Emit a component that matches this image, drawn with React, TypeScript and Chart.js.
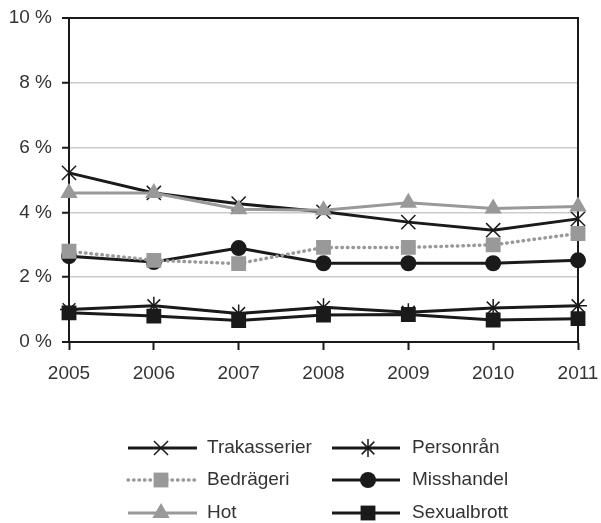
import React, { useEffect, useRef } from "react";
import { Chart, registerables } from "chart.js";
import { drawPoint } from "chart.js/helpers";

Chart.register(...registerables);

const years = ["2005", "2006", "2007", "2008", "2009", "2010", "2011"];
const trakasserier = [5.22, 4.6, 4.27, 4.02, 3.7, 3.45, 3.8];
const personran = [1.0, 1.12, 0.88, 1.07, 0.92, 1.05, 1.12];
const bedrageri = [2.8, 2.52, 2.42, 2.92, 2.92, 3.0, 3.35];
const misshandel = [2.65, 2.47, 2.9, 2.43, 2.43, 2.43, 2.52];
const hot = [4.6, 4.6, 4.1, 4.07, 4.3, 4.12, 4.18];
const sexualbrott = [0.9, 0.8, 0.66, 0.83, 0.85, 0.68, 0.72];
const yTicks = [0, 2, 4, 6, 8, 10];

const BLACK = "#1a1a1a";
const GRAY = "#999999";
const TEXT = "#333333";
const FONT = "'Liberation Sans', Arial, sans-serif";
const FS = 19;

const legendPlugin = {
  id: "customLegend",
  afterDraw(chart: any) {
    const ctx = chart.ctx;
    const rows = [448, 480, 513];
    const cols = [
      { x1: 128, x2: 197, mx: 161, tx: 207 },
      { x1: 332, x2: 400, mx: 368, tx: 412 },
    ];
    chart.data.datasets.forEach((ds: any, i: number) => {
      const c = cols[i % 2];
      const y = rows[Math.floor(i / 2)];
      ctx.save();
      ctx.strokeStyle = ds.borderColor;
      ctx.lineWidth = ds.borderWidth;
      ctx.lineCap = ds.borderCapStyle || "butt";
      ctx.setLineDash(ds.borderDash || []);
      ctx.beginPath();
      ctx.moveTo(c.x1, y);
      ctx.lineTo(c.x2, y);
      ctx.stroke();
      ctx.setLineDash([]);
      ctx.lineCap = "butt";
      ctx.fillStyle = ds.pointBackgroundColor;
      ctx.strokeStyle = ds.pointBorderColor;
      ctx.lineWidth = ds.pointBorderWidth;
      drawPoint(
        ctx,
        {
          pointStyle: ds.pointStyle,
          radius: ds.pointRadius,
          rotation: 0,
          borderWidth: ds.pointBorderWidth,
        } as any,
        c.mx,
        y
      );
      ctx.fillStyle = TEXT;
      ctx.font = `${FS}px ${FONT}`;
      ctx.textBaseline = "middle";
      ctx.textAlign = "left";
      ctx.fillText(ds.label, c.tx, y);
      ctx.restore();
    });
  },
};

const boxPlugin = {
  id: "box",
  beforeDatasetsDraw(chart: any) {
    const { ctx, chartArea } = chart;
    ctx.save();
    ctx.strokeStyle = BLACK;
    ctx.lineWidth = 2;
    ctx.strokeRect(
      chartArea.left,
      chartArea.top,
      chartArea.right - chartArea.left,
      chartArea.bottom - chartArea.top
    );
    ctx.restore();
  },
};

export default function App() {
  const ref = useRef<HTMLCanvasElement | null>(null);
  useEffect(() => {
    if (!ref.current) return;
    const line = (
      label: string,
      data: number[],
      color: string,
      style: string,
      radius: number,
      order: number,
      extra: any = {}
    ) => ({
      label,
      data,
      borderColor: color,
      backgroundColor: color,
      borderWidth: 3,
      pointStyle: style,
      pointRadius: radius,
      pointBackgroundColor: color,
      pointBorderColor: color,
      pointBorderWidth: style === "crossRot" || style === "star" ? 1.5 : 0,
      tension: 0,
      order,
      ...extra,
    });
    const chart = new Chart(ref.current, {
      type: "line",
      data: {
        labels: years,
        datasets: [
          line("Trakasserier", trakasserier, BLACK, "crossRot", 10, 5),
          line("Personrån", personran, BLACK, "star", 9, 4),
          line("Bedrägeri", bedrageri, GRAY, "rect", 10.5, 1, {
            borderDash: [0.5, 5],
            borderCapStyle: "round",
            borderWidth: 3.5,
          }),
          line("Misshandel", misshandel, BLACK, "circle", 8, 3),
          line("Hot", hot, GRAY, "triangle", 10, 0),
          line("Sexualbrott", sexualbrott, BLACK, "rect", 10.5, 2),
        ],
      },
      options: {
        animation: false,
        responsive: false,
        maintainAspectRatio: false,
        layout: { padding: { left: 0, top: 18, right: 23, bottom: 141 } },
        plugins: { legend: { display: false }, tooltip: { enabled: false } },
        scales: {
          x: {
            offset: false,
            grid: {
              drawOnChartArea: false,
              drawTicks: true,
              tickLength: 8,
              tickColor: BLACK,
              tickWidth: 2,
            },
            border: { color: BLACK, width: 2 },
            ticks: {
              color: TEXT,
              font: { size: FS, family: FONT },
              padding: 12,
              maxRotation: 0,
            },
            afterFit: (s: any) => {
              s.height = 40;
              s.paddingLeft = 0;
              s.paddingRight = 0;
            },
          },
          y: {
            min: 0,
            max: 10,
            afterBuildTicks: (s: any) => {
              s.ticks = yTicks.map((v) => ({ value: v }));
            },
            grid: {
              color: (c: any) =>
                c.tick && (c.tick.value === 0 || c.tick.value === 10)
                  ? BLACK
                  : "#cccccc",
              lineWidth: (c: any) =>
                c.tick && (c.tick.value === 0 || c.tick.value === 10) ? 2 : 1.5,
              tickColor: BLACK,
              tickLength: 7,
              tickWidth: 2,
            },
            border: { color: BLACK, width: 2 },
            ticks: {
              color: TEXT,
              font: { size: FS, family: FONT },
              padding: 10,
              callback: (v: any) => `${v} %`,
            },
            afterFit: (s: any) => {
              s.width = 69;
              s.paddingTop = 0;
              s.paddingBottom = 0;
            },
          },
        },
      },
      plugins: [boxPlugin, legendPlugin],
    });
    return () => chart.destroy();
  }, []);
  return (
    <div style={{ position: "fixed", left: 0, top: 0, width: 601, height: 523, background: "#fff" }}>
      <canvas ref={ref} width={601} height={523} style={{ width: 601, height: 523 }} />
    </div>
  );
}
